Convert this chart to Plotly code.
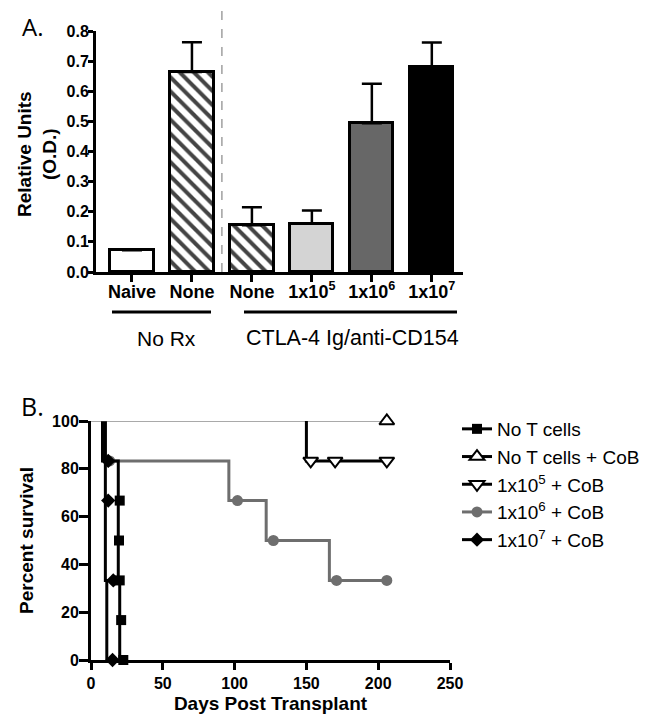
import plotly.graph_objects as go

# Browser page has an 8px body margin: figure is sized to fit inside it
PAGE_W, PAGE_H = 663, 727
OFF = 8
W, H = PAGE_W - 2 * OFF, PAGE_H - 2 * OFF

# ---------------- Panel A data ----------------
bar_labels = ["Naive", "None", "None", "1x10<sup>5</sup>", "1x10<sup>6</sup>", "1x10<sup>7</sup>"]
bar_values = [0.072, 0.664, 0.155, 0.160, 0.494, 0.682]
bar_err = [None, 0.099, 0.060, 0.044, 0.131, 0.080]
bar_colors = ["white", "white", "white", "#d4d4d4", "#676767", "black"]
bar_patterns = ["", "\\", "\\", "", "", ""]
group_names = ["No Rx", "CTLA-4 Ig/anti-CD154"]
a_yticks = [0.0, 0.1, 0.2, 0.3, 0.4, 0.5, 0.6, 0.7, 0.8]

# ---------------- Panel B data ----------------
# step lines (day, percent survival)
noT_days = [10, 10, 19, 19, 19, 20, 20]
noT_surv = [100, 83.3, 66.7, 50, 33.3, 16.7, 0]
noT_mk_days = [20, 19.5, 20, 21, 22.5]
noT_mk_surv = [66.7, 50, 33.3, 16.7, 0]

noTcob_days = [0, 206]
noTcob_surv = [100, 100]
noTcob_mk_days = [206]
noTcob_mk_surv = [100]

e5_days = [150, 150, 206]
e5_surv = [100, 83.3, 83.3]
e5_mk_days = [153, 170, 206]
e5_mk_surv = [83.3, 83.3, 83.3]

e6_days = [10, 10, 96, 122, 166, 206]
e6_surv = [100, 83.3, 66.7, 50, 33.3, 33.3]
e6_mk_days = [13, 102, 127, 171, 206]
e6_mk_surv = [83.3, 66.7, 50, 33.3, 33.3]

e7_days = [8, 8, 10, 10, 11]
e7_surv = [100, 83.3, 66.7, 33.3, 0]
e7_mk_days = [12, 12, 15.5, 15]
e7_mk_surv = [83.3, 66.7, 33.3, 0]

b_xticks = [0, 50, 100, 150, 200, 250]
b_yticks = [0, 20, 40, 60, 80, 100]

FONT = "Liberation Sans, Arial, Helvetica, sans-serif"


def px(x):
    return (x - OFF) / W


def py(y):
    return 1 - (y - OFF) / H


fig = go.Figure()

# ---- Panel A bars ----
fig.add_trace(go.Bar(
    x=list(range(len(bar_values))), y=bar_values, width=0.72,
    marker=dict(color=bar_colors, line=dict(color="black", width=3),
                pattern=dict(shape=bar_patterns, fgcolor="black", fgopacity=1, size=10, solidity=0.4)),
    error_y=dict(type="data", array=bar_err, arrayminus=[0] * len(bar_values), symmetric=False,
                 color="black", thickness=2.5, width=10),
    showlegend=False, xaxis="x", yaxis="y",
))

# ---- Panel B survival curves ----
series = [
    ("1x10<sup>6</sup> + CoB", e6_days, e6_surv, e6_mk_days, e6_mk_surv, "#6e6e6e", 3,
     dict(symbol="circle", size=11, color="#6e6e6e", line=dict(width=0))),
    ("No T cells", noT_days, noT_surv, noT_mk_days, noT_mk_surv, "black", 3,
     dict(symbol="square", size=10, color="black", line=dict(width=0))),
    ("1x10<sup>7</sup> + CoB", e7_days, e7_surv, e7_mk_days, e7_mk_surv, "black", 3,
     dict(symbol="diamond", size=11, color="black", line=dict(width=0))),
    ("No T cells + CoB", noTcob_days, noTcob_surv, noTcob_mk_days, noTcob_mk_surv, "#555555", 1.2,
     dict(symbol="triangle-up", size=13, color="white", line=dict(color="black", width=2))),
    ("1x10<sup>5</sup> + CoB", e5_days, e5_surv, e5_mk_days, e5_mk_surv, "black", 3,
     dict(symbol="triangle-down", size=13, color="white", line=dict(color="black", width=2))),
]
legend_order = ["No T cells", "No T cells + CoB", "1x10<sup>5</sup> + CoB",
                "1x10<sup>6</sup> + CoB", "1x10<sup>7</sup> + CoB"]

for name, d, s, md, ms, col, lw, mk in series:
    fig.add_trace(go.Scatter(x=d, y=s, mode="lines", line=dict(color=col, width=lw, shape="hv"),
                             showlegend=False, xaxis="x2", yaxis="y2", cliponaxis=False))
    fig.add_trace(go.Scatter(x=md, y=ms, mode="markers", marker=mk, showlegend=False,
                             xaxis="x2", yaxis="y2", cliponaxis=False))

style = {name: (col, mk) for name, d, s, md, ms, col, lw, mk in series}
for i, name in enumerate(legend_order):
    col, mk = style[name]
    lcol = "black" if name != "1x10<sup>6</sup> + CoB" else "#6e6e6e"
    fig.add_trace(go.Scatter(x=[None], y=[None], mode="lines+markers", name=name,
                             line=dict(color=lcol, width=3), marker=mk,
                             legendgroup=f"g{i}", xaxis="x2", yaxis="y2"))

# ---- shapes ----
shapes = [
    # dashed separator
    dict(type="line", xref="x", yref="paper", x0=1.5, x1=1.5, y0=py(272), y1=py(10),
         line=dict(color="#6f6f6f", width=1, dash="dash")),
    # group underlines
    dict(type="line", xref="paper", yref="paper", x0=px(112), x1=px(211), y0=py(312), y1=py(312),
         line=dict(color="black", width=3)),
    dict(type="line", xref="paper", yref="paper", x0=px(244), x1=px(457), y0=py(312), y1=py(312),
         line=dict(color="black", width=3)),
]

titlefont_b = dict(family=FONT, size=19, color="black", weight="bold")

annotations = [
    dict(text=group_names[0], x=px(166), y=py(338), xref="paper", yref="paper", showarrow=False,
         font=dict(family=FONT, size=21, color="black"), xanchor="center", yanchor="middle"),
    dict(text=group_names[1], x=px(352), y=py(338), xref="paper", yref="paper", showarrow=False,
         font=dict(family=FONT, size=21.5, color="black"), xanchor="center", yanchor="middle"),
    dict(text="A.", x=px(32), y=py(8), xref="paper", yref="paper", showarrow=False,
         font=dict(family="Open Sans, sans-serif", size=24, color="black"), xanchor="center", yanchor="top"),
    dict(text="B.", x=px(32), y=py(406), xref="paper", yref="paper", showarrow=False,
         font=dict(family="Open Sans, sans-serif", size=25, color="black"), xanchor="center", yanchor="middle"),
    # panel A y-axis title
    dict(text="Relative Units<br>(O.D.)", x=px(37), y=py(154), xref="paper", yref="paper",
         showarrow=False, textangle=-90, font=titlefont_b, xanchor="center", yanchor="middle"),
]

tickfont_b = dict(family=FONT, size=16, color="black", weight="bold")
axis_common = dict(showline=True, linewidth=3, linecolor="black", ticks="outside",
                   tickwidth=3, tickcolor="black", showgrid=False, zeroline=False, automargin=False)

fig.update_layout(
    width=W, height=H, margin=dict(l=0, r=0, t=0, b=0, autoexpand=False),
    paper_bgcolor="white", plot_bgcolor="white",
    font=dict(family=FONT, color="black"),
    bargap=0,
    xaxis=dict(domain=[px(96), px(463)], range=[-0.6, 5.52], anchor="y",
               tickvals=list(range(len(bar_labels))), ticktext=bar_labels, ticklabelstandoff=-6,
               ticklen=7, tickfont=dict(family=FONT, size=18, color="black", weight="bold"),
               **axis_common),
    yaxis=dict(domain=[py(272), py(31)], range=[0, 0.8], anchor="x",
               tickvals=a_yticks, tickformat=".1f", tickfont=tickfont_b, ticklen=5,
               ticklabelstandoff=-4, **axis_common),
    xaxis2=dict(domain=[px(91), px(450)], range=[0, 250], anchor="y2",
                tickvals=b_xticks, tickfont=tickfont_b, ticklen=7,
                title=dict(text="Days Post Transplant", font=titlefont_b, standoff=6),
                **axis_common),
    yaxis2=dict(domain=[py(660), py(421)], range=[0, 100], anchor="x2",
                tickvals=b_yticks, tickfont=tickfont_b, ticklen=9, ticklabelstandoff=-3,
                title=dict(text="Percent survival", font=titlefont_b, standoff=14),
                **axis_common),
    legend=dict(x=px(457), y=py(410), xanchor="left", yanchor="top",
                font=dict(family=FONT, size=19, color="black"),
                tracegroupgap=0, bgcolor="rgba(0,0,0,0)", itemwidth=30),
    shapes=shapes, annotations=annotations,
)

fig.write_html("out.html")
